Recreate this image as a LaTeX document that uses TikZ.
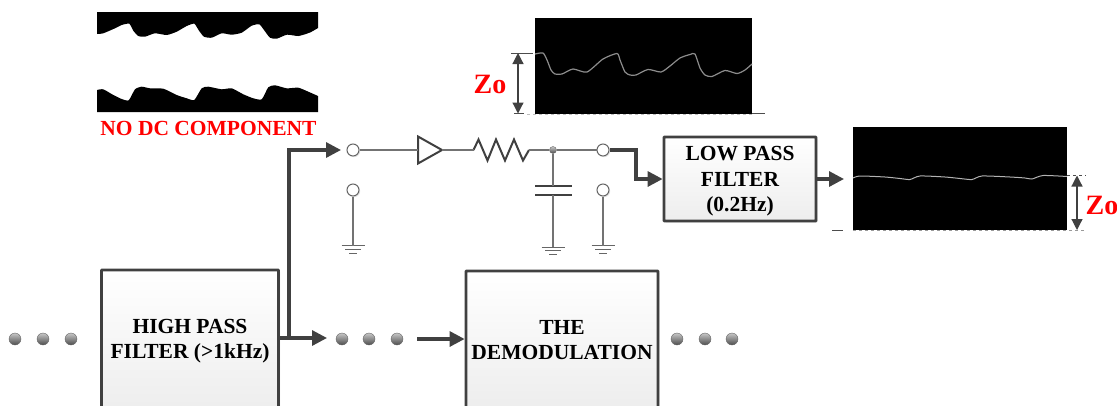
\documentclass[tikz,border=0pt]{standalone}
\usepackage{fontspec}
\setmainfont{Liberation Serif}
\usetikzlibrary{positioning}
\usetikzlibrary{arrows.meta}
\usetikzlibrary{shadows}
\definecolor{wirecol}{HTML}{404040}
\tikzset{
  blockbox/.style={draw=wirecol, line width=2.8pt, rounded corners=0.6pt, top color=white, bottom color=black!7, align=center, font=\bfseries\fontsize{21.5}{25.5}\selectfont, drop shadow={shadow xshift=1.5pt, shadow yshift=-1.5pt, opacity=0.2}, inner sep=0pt},
  thickwire/.style={draw=wirecol, line width=3.2pt, -{Triangle[length=15pt, width=15pt]}},
  thinwire/.style={draw=black!55, line width=1.2pt},
  terminal/.style={draw=black!60, circle, line width=1pt, minimum size=12pt, inner sep=0pt, fill=white, drop shadow={shadow xshift=1.2pt, shadow yshift=-1.2pt, opacity=0.2}},
  ball/.style={circle, draw=black!60, line width=0.4pt, minimum size=12pt, inner sep=0pt, top color=black!22, bottom color=black!70},
  redlabel/.style={text=red, font=\bfseries\fontsize{21.5}{24}\selectfont, inner sep=0pt},
  zolabel/.style={text=red, font=\bfseries\fontsize{28}{30}\selectfont, inner sep=0pt},
  sizearrow/.style={draw=wirecol, line width=1.2pt, {Triangle[length=11pt, width=11pt]}-{Triangle[length=11pt, width=11pt]}},
  leveldash/.style={draw=black!70, line width=0.8pt},
  trace/.style={line width=1.2pt, line join=round},
}
\begin{document}
\begin{tikzpicture}[x=1pt, y=-1pt]
% Set the size of the figure
\useasboundingbox (0,0) rectangle (1117,405);

% Input picture with the DC removed
\fill[black] (97,12) -- (318,12) -- (318,28) -- plot[smooth, tension=0.35] coordinates {(318,28) (310,32.5) (298.5,36) (287,34.7) (276.7,38.7) (270,37.7) (264,30) (259.3,24.3) (251.7,25.7) (241.7,32.7) (231.7,34.7) (221.7,33.3) (211.7,37.7) (204,36.7) (199,30.7) (194.3,23.7) (186.7,26) (176.7,31.7) (166.7,35) (155,33.3) (145,36.7) (138.3,36) (133.3,30.7) (129.3,23.7) (121.7,25) (115,28.3) (103.3,33.3) (97,34)} -- cycle;
\fill[black] (97,112) -- (97,90) -- plot[smooth, tension=0.35] coordinates {(97,90) (103.3,89.3) (113.3,95) (121.7,99) (128.7,100.3) (135,89.3) (141.7,86.7) (150,88.3) (163.3,88.7) (176.7,95) (186.7,98.3) (194.3,100) (201.7,88.3) (208.3,86.7) (221.7,89.3) (231.7,88.3) (243.3,94.3) (253.3,98.3) (261.7,99.3) (268.3,87.3) (275,85.3) (286.7,88.3) (298.3,87.7) (308.3,91.7) (318,96)} -- (318,112) -- cycle;
\node[redlabel] (nodc) at (208.5,128) {NO DC COMPONENT};

% Upper scope
\node[fill=black, minimum width=217pt, minimum height=96pt, inner sep=0pt] (scopeup) at (643.5,66) {};
\draw[trace, black!45] plot[smooth, tension=0.4] coordinates {(535,54) (543,53) (547,60) (551,70) (555,74) (562,74) (573,69) (587,72) (603,59) (617,53.5) (620,60) (625,72) (630,75) (636,75) (648,69.5) (661,72) (670,66) (680,58) (690,54.5) (695,54) (700,68) (705,75) (712,76.5) (725,70.5) (737,73.5) (745,70) (752,64)};
\coordinate (uptop) at (518,53);
\coordinate (upbot) at (518,113.5);
\draw[sizearrow] (uptop) -- (upbot);
\draw[leveldash] (511,53) -- (524,53);
\draw[leveldash] (524,53) -- (533,53);
\draw[leveldash] (514,113.5) -- (524,113.5);
\draw[black!25, line width=0.8pt, dashed] (527,114.5) -- (752,114.5);
\draw[leveldash] (752,113.5) -- (765,113.5);
\node[zolabel] (zoup) at (490,84) {Zo};

% Lower scope
\node[fill=black, minimum width=214pt, minimum height=103pt, inner sep=0pt] (scopedn) at (960,178.5) {};
\draw[trace, black!30, line width=1pt] plot[smooth, tension=0.4] coordinates {(853,178) (860,176) (885,177) (900,178.5) (910,179.5) (920,176) (945,177) (960,178.5) (972,179.5) (982,176) (1010,177) (1025,178) (1032,179) (1043,175.5) (1067,176.5)};
\coordinate (dntop) at (1077,175.5);
\coordinate (dnbot) at (1077,230);
\draw[sizearrow] (dntop) -- (dnbot);
\draw[leveldash, dashed] (1067,175.5) -- (1086,175.5);
\draw[leveldash] (832,230) -- (843,230);
\draw[black!40, line width=0.8pt, dashed] (853,230.5) -- (1085,230.5);
\node[zolabel] (zodn) at (1102,205) {Zo};

% Blocks
\node[blockbox, minimum width=177pt, minimum height=142pt] (highpass) at (190,341) {HIGH PASS\\FILTER (>1kHz)};
\node[blockbox, minimum width=192pt, minimum height=138pt] (demod) at (562,340) {THE\\DEMODULATION};
\node[blockbox, minimum width=152pt, minimum height=84pt] (lowpass) at (740,179) {\raisebox{-7pt}[0pt][0pt]{LOW PASS}\\\raisebox{-7pt}[0pt][0pt]{FILTER}\\\raisebox{-7pt}[0pt][0pt]{(0.2Hz)}};

% Dots between blocks
\foreach \name/\xpos in {a/15,b/43,c/71,d/342,e/369,f/397,g/677,h/705,i/732} {
  \node[ball] (dot\name) at (\xpos,339) {};
}

% Switch terminals
\node[terminal] (swina) at (353,150) {};
\node[terminal] (swinb) at (353,190) {};
\node[terminal] (swouta) at (603,150) {};
\node[terminal] (swoutb) at (603,190) {};

% Buffer, resistor, capacitor
\coordinate (bufin) at (418,150);
\coordinate (bufout) at (442,150);
\draw[draw=wirecol, line width=2pt, line join=miter] (418,136.5) -- (442,150) -- (418,163.5) -- cycle;
\coordinate (resin) at (473.5,150);
\coordinate (resout) at (529,150);
\draw[draw=wirecol, line width=2pt] (resin) -- (478.5,139.5) -- (487.5,160.5) -- (496,139.5) -- (505,160.5) -- (514,139.5) -- (523,160.5) -- (resout);
\node[ball, minimum size=7pt] (junction) at (553,150) {};
\coordinate (capa) at (553,186);
\coordinate (capb) at (553,195);
\draw[draw=wirecol, line width=1.4pt] (535,186) -- (572,186);
\draw[draw=wirecol, line width=1.4pt] (535,195) -- (572,195);

% Grounds
\foreach \name/\xpos/\ypos in {a/353/245.5,b/553/247,c/603/245.5} {
  \coordinate (gnd\name) at (\xpos,\ypos);
  \draw[black!60, line width=1pt] (\xpos-11.5,\ypos) -- (\xpos+11.5,\ypos);
  \draw[black!60, line width=1pt] (\xpos-8,\ypos+3.5) -- (\xpos+8,\ypos+3.5);
  \draw[black!60, line width=1pt] (\xpos-4,\ypos+7.5) -- (\xpos+4,\ypos+7.5);
}

% Thin wires
\draw[thinwire] (swina) -- (bufin);
\draw[thinwire] (bufout) -- (resin);
\draw[thinwire] (resout) -- (junction);
\draw[thinwire] (junction) -- (swouta);
\draw[thinwire] (junction) -- (capa);
\draw[thinwire] (capb) -- (gndb);
\draw[thinwire] (swinb) -- (gnda);
\draw[thinwire] (swoutb) -- (gndc);

% Thick arrows
\coordinate (hpout) at (327,338);
\coordinate (branch) at (289,338);
\coordinate (swtip) at (341,150);
\coordinate (lptip) at (844,179);
\coordinate (demodin) at (417,339);
\draw[thickwire] (highpass.east |- hpout) -- (hpout);
\draw[thickwire] (branch) -- (289,150) -- (swtip);
\draw[thickwire] (swouta.east) -- (636,150) -- (636,179) -- (lowpass.west);
\draw[thickwire] (lowpass.east) -- (lptip);
\draw[thickwire] (demodin) -- (demod.west |- demodin);
\end{tikzpicture}
\end{document}
